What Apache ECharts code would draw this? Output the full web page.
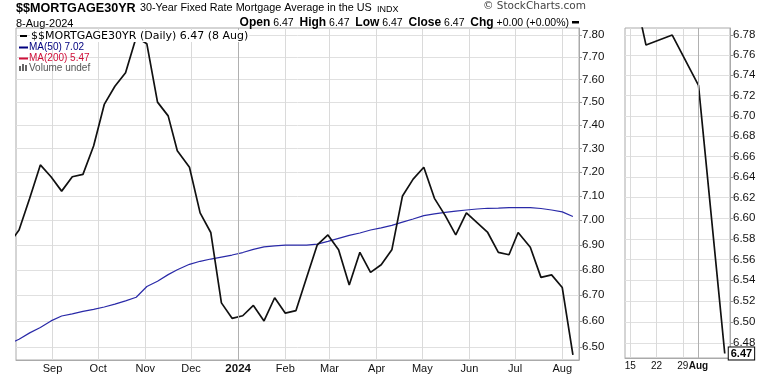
<!DOCTYPE html>
<html>
<head>
<meta charset="utf-8">
<script src="https://cdn.jsdelivr.net/npm/echarts@6/dist/echarts.min.js"></script>
<style>
html, body { margin: 0; padding: 0; background: #fff; }
#chart { width: 770px; height: 376px; }
</style>
</head>
<body>
<div id="chart"></div>
<script>
// weekly 30-year fixed rate readings (Thursdays)
var dates = ['2023-08-03', '2023-08-10', '2023-08-17', '2023-08-24', '2023-08-31', '2023-09-07', '2023-09-14', '2023-09-21', '2023-09-28',
  '2023-10-05', '2023-10-12', '2023-10-19', '2023-10-26', '2023-11-02', '2023-11-09', '2023-11-16', '2023-11-22', '2023-11-30',
  '2023-12-07', '2023-12-14', '2023-12-21', '2023-12-28', '2024-01-04', '2024-01-11', '2024-01-18', '2024-01-25', '2024-02-01',
  '2024-02-08', '2024-02-15', '2024-02-22', '2024-02-29', '2024-03-07', '2024-03-14', '2024-03-21', '2024-03-28', '2024-04-04',
  '2024-04-11', '2024-04-18', '2024-04-25', '2024-05-02', '2024-05-09', '2024-05-16', '2024-05-23', '2024-05-30', '2024-06-06',
  '2024-06-13', '2024-06-20', '2024-06-27', '2024-07-03', '2024-07-11', '2024-07-18', '2024-07-25', '2024-08-01', '2024-08-08']
var closes = [6.90, 6.96, 7.09, 7.23, 7.18, 7.12, 7.18, 7.19, 7.31,
  7.49, 7.57, 7.63, 7.79, 7.76, 7.50, 7.44, 7.29, 7.22,
  7.03, 6.95, 6.67, 6.61, 6.62, 6.66, 6.60, 6.69, 6.63,
  6.64, 6.77, 6.90, 6.94, 6.88, 6.74, 6.87, 6.79, 6.82,
  6.88, 7.10, 7.17, 7.22, 7.09, 7.02, 6.94, 7.03, 6.99,
  6.95, 6.87, 6.86, 6.95, 6.89, 6.77, 6.78, 6.73, 6.47]
// MA(50) at the same dates
var ma50 = [6.51, 6.53, 6.554, 6.575, 6.60, 6.619, 6.627, 6.637, 6.645,
  6.654, 6.665, 6.678, 6.692, 6.734, 6.755, 6.781, 6.80, 6.822,
  6.834, 6.843, 6.851, 6.859, 6.869, 6.882, 6.892, 6.896, 6.899,
  6.899, 6.899, 6.903, 6.914, 6.926, 6.938, 6.948, 6.960, 6.969,
  6.979, 6.992, 7.005, 7.019, 7.026, 7.032, 7.037, 7.042, 7.046,
  7.049, 7.050, 7.052, 7.052, 7.052, 7.048, 7.042, 7.034, 7.015]

var monthTicks = ['2023-09-01', '2023-10-01', '2023-11-01', '2023-12-01', '2024-01-01', '2024-02-01',
  '2024-03-01', '2024-04-01', '2024-05-01', '2024-06-01', '2024-07-01', '2024-08-01']
var priceTicks = [6.50, 6.60, 6.70, 6.80, 6.90, 7.00, 7.10, 7.20, 7.30, 7.40, 7.50, 7.60, 7.70, 7.80]

// zoomed panel: trading days
var zoomDays = ['2024-07-11', '2024-07-12', '2024-07-15', '2024-07-16', '2024-07-17', '2024-07-18', '2024-07-19',
  '2024-07-22', '2024-07-23', '2024-07-24', '2024-07-25', '2024-07-26', '2024-07-29', '2024-07-30', '2024-07-31',
  '2024-08-01', '2024-08-02', '2024-08-05', '2024-08-06', '2024-08-07', '2024-08-08', '2024-08-09']
var zoomDayTicks = ['2024-07-15', '2024-07-22', '2024-07-29', '2024-08-01']
var zoomTicks = [6.48, 6.50, 6.52, 6.54, 6.56, 6.58, 6.60, 6.62, 6.64, 6.66, 6.68, 6.70, 6.72, 6.74, 6.76, 6.78]

var MONTHS = ['Jan', 'Feb', 'Mar', 'Apr', 'May', 'Jun', 'Jul', 'Aug', 'Sep', 'Oct', 'Nov', 'Dec']
var ln = Math.log
function ts(s) { return new Date(s + 'T00:00:00').getTime() }
function lnAll(arr) { return arr.map(function (v) { return ln(v) }) }
function fmtPrice(v) { return Math.exp(v).toFixed(2) }

var priceData = dates.map(function (d, i) { return [ts(d), ln(closes[i])] })
var maData = dates.map(function (d, i) { return [ts(d), ln(ma50[i])] })
var zoomData = []
dates.forEach(function (d, i) {
  if (zoomDays.indexOf(d) >= 0) zoomData.push([d, ln(closes[i])])
})
var monthTs = monthTicks.map(ts)

var AX = 'Liberation Sans, Arial, sans-serif'
var axisLabelBase = { color: '#111', fontFamily: AX, fontSize: 11 }

var chart = echarts.init(document.getElementById('chart'))
chart.setOption({
  animation: false,
  backgroundColor: '#fff',
  grid: [
    { left: 16, top: 28, width: 563, height: 332, show: true, borderColor: '#aaa', borderWidth: 1, outerBoundsMode: 'none' },
    { left: 625, top: 28, width: 105, height: 330, show: true, borderColor: '#aaa', borderWidth: 1, outerBoundsMode: 'none' }
  ],
  xAxis: [
    {
      type: 'value',
      gridIndex: 0,
      min: ts('2023-08-08'),
      max: ts('2024-08-12'),
      axisLine: { show: true, lineStyle: { color: '#aaa' } },
      axisTick: { show: false, customValues: monthTs },
      axisLabel: Object.assign({}, axisLabelBase, {
        customValues: monthTs,
        hideOverlap: false,
        margin: 3,
        formatter: function (val) {
          var d = new Date(val)
          return d.getMonth() === 0 ? '{y|' + d.getFullYear() + '}' : MONTHS[d.getMonth()]
        },
        rich: { y: { fontWeight: 'bold', fontSize: 11.5, fontFamily: AX, color: '#111' } }
      }),
      splitLine: { show: true, lineStyle: { color: '#dadada', width: 1 } }
    },
    {
      type: 'category',
      gridIndex: 1,
      data: zoomDays,
      boundaryGap: false,
      min: 1,
      max: zoomDays.length - 1,
      axisLine: { show: true, lineStyle: { color: '#aaa' } },
      axisTick: { show: false },
      axisLabel: Object.assign({}, axisLabelBase, {
        hideOverlap: false,
        fontSize: 10,
        margin: 3,
        interval: function (i, v) { return zoomDayTicks.indexOf(v) >= 0 },
        formatter: function (v) {
          return v === '2024-08-01' ? '{b|Aug}' : String(+v.slice(8))
        },
        rich: { b: { fontWeight: 'bold', fontSize: 10, fontFamily: AX, color: '#111' } }
      }),
      splitLine: {
        show: true,
        interval: function (i, v) { return zoomDayTicks.indexOf(v) >= 0 },
        lineStyle: { color: '#dadada', width: 1 }
      }
    }
  ],
  yAxis: [
    {
      type: 'value',
      gridIndex: 0,
      position: 'right',
      min: ln(6.451),
      max: ln(7.832),
      axisLine: { show: true, lineStyle: { color: '#aaa' } },
      axisTick: { show: true, length: 3, customValues: lnAll(priceTicks), lineStyle: { color: '#999' } },
      axisLabel: Object.assign({}, axisLabelBase, { customValues: lnAll(priceTicks), formatter: fmtPrice, margin: 3, fontSize: 11.5 }),
      splitLine: { show: true, lineStyle: { color: '#e0e0e0' } }
    },
    {
      type: 'value',
      gridIndex: 1,
      position: 'right',
      min: ln(6.4657),
      max: ln(6.787),
      axisLine: { show: true, lineStyle: { color: '#aaa' } },
      axisTick: { show: true, length: 3, customValues: lnAll(zoomTicks), lineStyle: { color: '#999' } },
      axisLabel: Object.assign({}, axisLabelBase, { customValues: lnAll(zoomTicks), formatter: fmtPrice, margin: 3, fontSize: 11.5 }),
      splitLine: { show: true, lineStyle: { color: '#e0e0e0' } }
    }
  ],
  series: [
    {
      name: 'MA(50)',
      type: 'line',
      xAxisIndex: 0,
      yAxisIndex: 0,
      data: maData,
      showSymbol: false,
      z: 2,
      lineStyle: { color: '#2a2aa8', width: 1.2 },
      markLine: {
        silent: true,
        symbol: 'none',
        label: { show: false },
        lineStyle: { color: '#b0b0b0', type: 'solid', width: 1 },
        data: [{ xAxis: ts('2024-01-01') }]
      }
    },
    {
      name: '$$MORTGAGE30YR',
      type: 'line',
      xAxisIndex: 0,
      yAxisIndex: 0,
      data: priceData,
      showSymbol: false,
      z: 3,
      lineStyle: { color: '#111', width: 1.7 }
    },
    {
      name: 'zoom',
      type: 'line',
      xAxisIndex: 1,
      yAxisIndex: 1,
      data: zoomData,
      showSymbol: false,
      z: 3,
      lineStyle: { color: '#111', width: 1.7 },
      endLabel: {
        show: true,
        distance: 4,
        formatter: function (p) { return fmtPrice(p.value[1]) },
        backgroundColor: '#fff',
        borderColor: '#000',
        borderWidth: 1,
        padding: [1, 2, 0, 2],
        color: '#000',
        fontFamily: AX,
        fontWeight: 'bold',
        fontSize: 11
      },
      markLine: {
        silent: true,
        symbol: 'none',
        label: { show: false },
        lineStyle: { color: '#b0b0b0', type: 'solid', width: 1 },
        data: [{ xAxis: '2024-08-01' }]
      }
    }
  ],
  graphic: [
    { type: 'text', left: 16, top: 2, z: 100, style: { text: '$$MORTGAGE30YR', font: 'bold 12.6px "Liberation Sans"', fill: '#000' } },
    { type: 'text', left: 140, top: 3, z: 100, style: { text: '30-Year Fixed Rate Mortgage Average in the US', font: '10.8px "Liberation Sans"', fill: '#000' } },
    { type: 'text', left: 377, top: 5, z: 100, style: { text: 'INDX', font: '9px "Liberation Sans"', fill: '#000' } },
    { type: 'text', left: 483, top: 1, z: 100, style: { text: '\u00a9 StockCharts.com', font: '10.5px "DejaVu Sans"', fill: '#444' } },
    { type: 'text', left: 16, top: 18, z: 100, style: { text: '8-Aug-2024', font: '11px "Liberation Sans"', fill: '#000' } },
    {
      type: 'text', right: 201, top: 17, z: 100,
      style: {
        text: '{b|Open} 6.47  {b|High} 6.47  {b|Low} 6.47  {b|Close} 6.47  {b|Chg} +0.00 (+0.00%)',
        font: '10.5px "Liberation Sans"', fill: '#000',
        rich: { b: { font: 'bold 12px "Liberation Sans"', fill: '#000' } }
      }
    },
    { type: 'rect', z: 100, shape: { x: 572, y: 21, width: 7, height: 2.5 }, style: { fill: '#000' } },

    // legend inside the plot
    { type: 'rect', z: 100, shape: { x: 20, y: 35, width: 7, height: 2 }, style: { fill: '#000' } },
    { type: 'text', left: 30, top: 30, z: 100, style: { text: '$$MORTGAGE30YR (Daily) 6.47 (8 Aug)', font: '11px "DejaVu Sans"', fill: '#000', backgroundColor: '#fff', padding: [1, 1, 0, 1] } },
    { type: 'rect', z: 100, shape: { x: 19, y: 46.5, width: 9, height: 2 }, style: { fill: '#00007f' } },
    { type: 'text', left: 29, top: 42, z: 100, style: { text: 'MA(50) 7.02', font: '10px "Liberation Sans"', fill: '#00007f' } },
    { type: 'rect', z: 100, shape: { x: 19, y: 57.5, width: 9, height: 2 }, style: { fill: '#d0103a' } },
    { type: 'text', left: 29, top: 53, z: 100, style: { text: 'MA(200) 5.47', font: '10px "Liberation Sans"', fill: '#d0103a' } },
    { type: 'rect', z: 100, shape: { x: 19, y: 66, width: 2, height: 5 }, style: { fill: '#666' } },
    { type: 'rect', z: 100, shape: { x: 22, y: 64, width: 2, height: 7 }, style: { fill: '#666' } },
    { type: 'rect', z: 100, shape: { x: 25, y: 65, width: 2, height: 6 }, style: { fill: '#666' } },
    { type: 'text', left: 29, top: 63, z: 100, style: { text: 'Volume undef', font: '10px "Liberation Sans"', fill: '#555' } }
  ]
})
</script>
</body>
</html>
